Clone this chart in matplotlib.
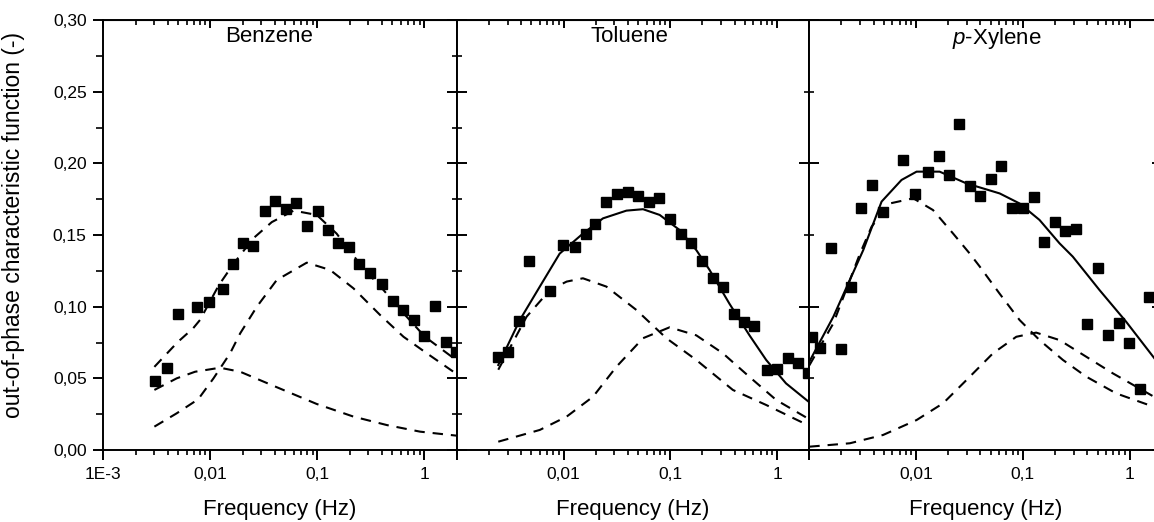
import numpy as np
import matplotlib
matplotlib.use("Agg")
import matplotlib.pyplot as plt
from matplotlib.ticker import MultipleLocator, LogLocator, NullFormatter, FixedLocator

plt.rcParams['font.family'] = ['Liberation Sans', 'DejaVu Sans']
plt.rcParams['mathtext.fontset'] = 'custom'
plt.rcParams['mathtext.rm'] = 'Liberation Sans'
plt.rcParams['mathtext.it'] = 'Liberation Sans:italic'

# ---- Benzene ----
benz_f = [0.00304, 0.00396, 0.00496, 0.00757, 0.0098, 0.0131, 0.0162, 0.0203, 0.0252,
          0.0325, 0.0403, 0.0507, 0.0632, 0.0807, 0.1009, 0.1267, 0.157, 0.198, 0.247,
          0.311, 0.40, 0.507, 0.63, 0.79, 0.99, 1.26, 1.58, 1.98]
benz_y = [0.0484, 0.057, 0.0949, 0.100, 0.103, 0.1123, 0.130, 0.1447, 0.1423,
          0.1668, 0.1737, 0.168, 0.172, 0.1565, 0.1665, 0.1535, 0.1447, 0.1414, 0.130,
          0.1237, 0.1156, 0.104, 0.098, 0.0907, 0.0798, 0.1005, 0.0756, 0.0686]
benz_fit_f = [0.003, 0.0045, 0.0052, 0.0069, 0.008, 0.012, 0.0165, 0.0252, 0.0375, 0.06,
              0.0986, 0.151, 0.26, 0.414, 0.637, 1.01, 2.0]
benz_fit_y = [0.058, 0.072, 0.0767, 0.0849, 0.0907, 0.115, 0.130, 0.1477, 0.159, 0.167,
              0.164, 0.151, 0.128, 0.1116, 0.0954, 0.079, 0.0625]
benz_c1_f = [0.003, 0.00485, 0.0072, 0.0123, 0.019, 0.0374, 0.0986, 0.217, 0.445, 0.91, 2.0]
benz_c1_y = [0.0419, 0.050, 0.0546, 0.0574, 0.0546, 0.0453, 0.0321, 0.0233, 0.0174, 0.0128, 0.010]
benz_c2_f = [0.003, 0.00485, 0.0077, 0.0107, 0.0153, 0.019, 0.0272, 0.0417, 0.0795, 0.1315,
             0.217, 0.385, 0.637, 1.05, 2.0]
benz_c2_y = [0.0163, 0.0256, 0.0354, 0.050, 0.0675, 0.0814, 0.100, 0.1186, 0.1307, 0.1256,
             0.1128, 0.0942, 0.079, 0.0675, 0.053]

# ---- Toluene ----
tol_f = [0.00245, 0.00303, 0.00385, 0.00477, 0.00745, 0.0099, 0.0129, 0.0161, 0.0199,
         0.0252, 0.032, 0.0402, 0.0498, 0.0627, 0.0782, 0.0985, 0.125, 0.155, 0.2, 0.25,
         0.31, 0.393, 0.494, 0.613, 0.807, 1.0, 1.26, 1.56, 1.93]
tol_y = [0.0647, 0.0686, 0.090, 0.132, 0.111, 0.143, 0.1419, 0.151, 0.158,
         0.1728, 0.1784, 0.180, 0.1775, 0.1728, 0.176, 0.161, 0.1507, 0.1442, 0.132, 0.1198,
         0.1135, 0.0949, 0.089, 0.0865, 0.0558, 0.0565, 0.0644, 0.0605, 0.0535]
tol_fit_f = [0.00245, 0.0039, 0.006, 0.0092, 0.0152, 0.0234, 0.0388, 0.0555, 0.0795, 0.122,
             0.175, 0.233, 0.358, 0.551, 0.79, 1.21, 1.97]
tol_fit_y = [0.0593, 0.0907, 0.114, 0.137, 0.151, 0.1616, 0.167, 0.168, 0.164, 0.1535,
             0.1395, 0.1256, 0.102, 0.080, 0.0628, 0.0465, 0.0337]
tol_c1_f = [0.00245, 0.00451, 0.00745, 0.0107, 0.0152, 0.0252, 0.0481, 0.0918, 0.175, 0.385,
            0.79, 1.93]
tol_c1_y = [0.056, 0.093, 0.1116, 0.1175, 0.1198, 0.114, 0.0977, 0.078, 0.0628, 0.0419,
            0.0314, 0.0174]
tol_c2_f = [0.00245, 0.006, 0.0107, 0.0189, 0.0313, 0.0555, 0.0985, 0.175, 0.31, 0.551, 0.98, 1.93]
tol_c2_y = [0.0058, 0.014, 0.0233, 0.0372, 0.0581, 0.078, 0.0856, 0.080, 0.0675, 0.051,
            0.0349, 0.0221]

# ---- p-Xylene ----
xyl_f = [0.00105, 0.00126, 0.00158, 0.0020, 0.00244, 0.00304, 0.0039, 0.00485, 0.00756,
         0.0097, 0.0129, 0.0163, 0.0202, 0.0251, 0.0322, 0.040, 0.0499, 0.0628, 0.0796,
         0.100, 0.126, 0.157, 0.201, 0.249, 0.311, 0.40, 0.502, 0.632, 0.80, 0.99, 1.25, 1.53]
xyl_y = [0.0786, 0.071, 0.1407, 0.0703, 0.1135, 0.1686, 0.1849, 0.1663, 0.2023,
         0.1784, 0.1937, 0.2051, 0.1919, 0.2274, 0.1844, 0.1772, 0.1888, 0.198, 0.1686,
         0.1686, 0.1767, 0.1449, 0.1593, 0.1528, 0.154, 0.0879, 0.1268, 0.0802, 0.0884,
         0.0744, 0.0426, 0.107]
xyl_fit_f = [0.001, 0.00168, 0.0032, 0.00475, 0.0073, 0.0101, 0.0166, 0.0296, 0.0606, 0.093,
             0.143, 0.22, 0.293, 0.521, 0.925, 1.7]
xyl_fit_y = [0.0616, 0.093, 0.1395, 0.1733, 0.1884, 0.1942, 0.1942, 0.186, 0.179, 0.172,
             0.1605, 0.1442, 0.1349, 0.1116, 0.0895, 0.064]
xyl_c1_f = [0.001, 0.00168, 0.00298, 0.00383, 0.00567, 0.0094, 0.0144, 0.0222, 0.0318, 0.0394,
            0.0606, 0.093, 0.143, 0.237, 0.391, 0.746, 1.7]
xyl_c1_y = [0.059, 0.0884, 0.137, 0.1558, 0.172, 0.1756, 0.1674, 0.151, 0.137, 0.128,
            0.109, 0.0907, 0.0767, 0.0628, 0.0512, 0.0395, 0.030]
xyl_c2_f = [0.001, 0.0024, 0.00491, 0.0101, 0.0179, 0.0296, 0.0525, 0.0867, 0.133, 0.22,
            0.391, 0.694, 1.7]
xyl_c2_y = [0.0023, 0.0047, 0.0105, 0.0209, 0.0326, 0.0488, 0.0675, 0.079, 0.0819, 0.0767,
            0.0651, 0.0535, 0.037]

x_ticks = [1e-3, 1e-2, 1e-1, 1]
x_labels = ['1E-3', '0,01', '0,1', '1']
y_ticks = [0.0, 0.05, 0.10, 0.15, 0.20, 0.25, 0.30]
y_labels = ['0,00', '0,05', '0,10', '0,15', '0,20', '0,25', '0,30']

DASH = (5, 3.8)


def setup_axes(ax, show_first, left_dir, left_step, right_step, ylabels):
    ax.set_xscale('log')
    ax.set_xlim(1e-3, 2.0)
    ax.set_ylim(0, 0.30)
    for s in ax.spines.values():
        s.set_linewidth(1.4)

    ax.xaxis.set_major_locator(FixedLocator(x_ticks))
    ax.set_xticklabels(x_labels if show_first else [''] + x_labels[1:])
    ax.xaxis.set_minor_locator(LogLocator(base=10, subs=np.arange(2, 10)))
    ax.xaxis.set_minor_formatter(NullFormatter())
    ax.tick_params(axis='x', which='major', direction='out', length=7, width=1.4,
                   labelsize=12.5, pad=5, top=False)
    ax.tick_params(axis='x', which='minor', direction='out', length=3.5, width=1.2, top=False)

    ax.yaxis.set_major_locator(MultipleLocator(left_step[0]))
    ax.yaxis.set_minor_locator(MultipleLocator(left_step[1]))
    if ylabels:
        ax.set_yticks(y_ticks)
        ax.set_yticklabels(y_labels)
    else:
        ax.yaxis.set_major_formatter(NullFormatter())
    ax.tick_params(axis='y', which='major', direction=left_dir, length=7, width=1.4,
                   labelsize=12.5, pad=5, right=False)
    ax.tick_params(axis='y', which='minor', direction=left_dir,
                   length=5 if left_dir == 'out' else 3.5, width=1.2, right=False)

    top = ax.secondary_xaxis('top')
    top.xaxis.set_major_locator(FixedLocator(x_ticks))
    top.xaxis.set_major_formatter(NullFormatter())
    top.xaxis.set_minor_locator(LogLocator(base=10, subs=np.arange(2, 10)))
    top.xaxis.set_minor_formatter(NullFormatter())
    top.tick_params(which='major', direction='in', length=6, width=1.4)
    top.tick_params(which='minor', direction='in', length=3.5, width=1.2)

    right = ax.secondary_yaxis('right')
    right.yaxis.set_major_locator(MultipleLocator(right_step[0]))
    right.yaxis.set_minor_locator(MultipleLocator(right_step[1]))
    right.yaxis.set_major_formatter(NullFormatter())
    right.tick_params(which='major', direction='in', length=7, width=1.4)
    right.tick_params(which='minor', direction='in', length=3.5, width=1.2)

    ax.set_xlabel('Frequency (Hz)', fontsize=16)
    ax.xaxis.set_label_coords(0.5, -0.1395)
    ax.xaxis.label.set_verticalalignment('center')


def draw_panel(ax, name, name_x, pts, fit, c1, c2, fit_dashed):
    ax.plot(pts[0], pts[1], 's', color='black', markersize=7.5, zorder=3)
    if fit_dashed:
        ax.plot(fit[0], fit[1], '--', color='black', lw=1.5, dashes=DASH)
    else:
        ax.plot(fit[0], fit[1], '-', color='black', lw=1.5)
    ax.plot(c1[0], c1[1], '--', color='black', lw=1.5, dashes=DASH)
    ax.plot(c2[0], c2[1], '--', color='black', lw=1.5, dashes=DASH)
    ax.text(name_x, 0.985, name, transform=ax.transAxes, ha='center', va='top', fontsize=16)


fig = plt.figure(figsize=(11.54, 5.22), dpi=100)
b, h = 72 / 522, 430 / 522
ax1 = fig.add_axes([103.3 / 1154, b, 353.4 / 1154, h])
ax2 = fig.add_axes([456.7 / 1154, b, 352.6 / 1154, h])
ax3 = fig.add_axes([809.3 / 1154, b, 352.6 / 1154, h])

setup_axes(ax1, True, 'out', (0.05, 0.025), (0.05, 0.025), True)
setup_axes(ax2, False, 'in', (0.05, 0.025), (0.1, 0.05), False)
setup_axes(ax3, False, 'in', (0.1, 0.05), (0.1, 0.05), False)

draw_panel(ax1, 'Benzene', 0.469, (benz_f, benz_y), (benz_fit_f, benz_fit_y),
           (benz_c1_f, benz_c1_y), (benz_c2_f, benz_c2_y), True)
draw_panel(ax2, 'Toluene', 0.489, (tol_f, tol_y), (tol_fit_f, tol_fit_y),
           (tol_c1_f, tol_c1_y), (tol_c2_f, tol_c2_y), False)
draw_panel(ax3, r'$\mathit{p}$-Xylene', 0.532, (xyl_f, xyl_y), (xyl_fit_f, xyl_fit_y),
           (xyl_c1_f, xyl_c1_y), (xyl_c2_f, xyl_c2_y), False)

fig.text(14 / 1154, 1 - 225 / 522, 'out-of-phase characteristic function (-)',
         rotation=90, ha='center', va='center', fontsize=16.5)

fig.savefig('out.png', dpi=100)
